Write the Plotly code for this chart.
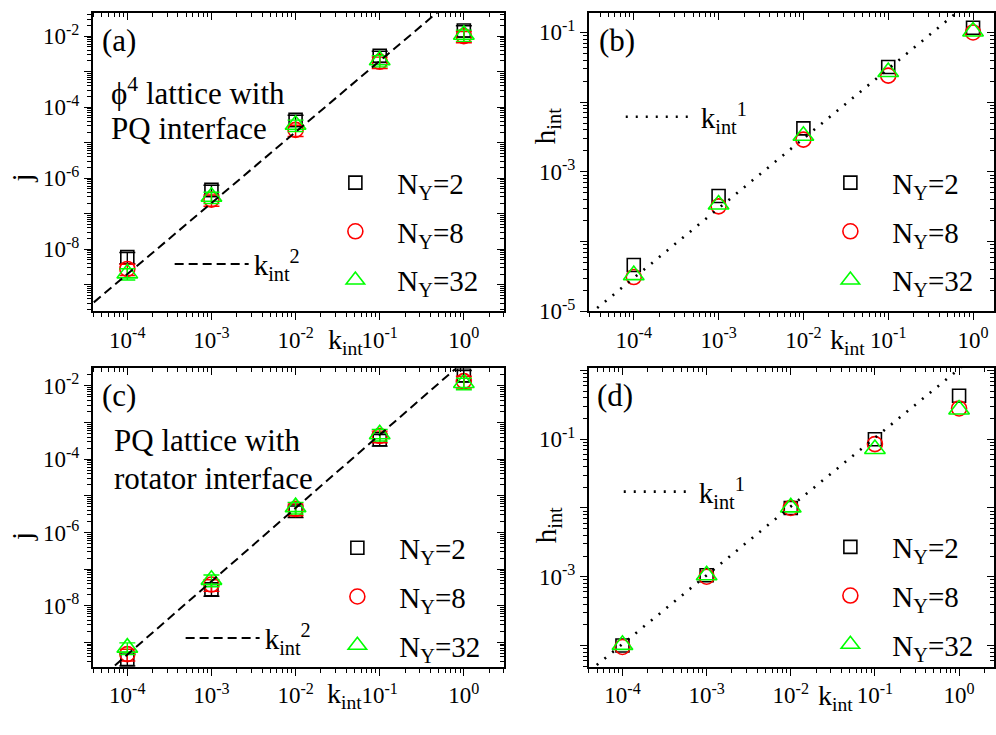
import plotly.graph_objects as go

FONT = "Liberation Serif"
W, H = 996, 735

# ---------------- data ----------------
k_int = [1e-4, 1e-3, 1e-2, 1e-1, 1.0]

# (a) phi^4 lattice with PQ interface : j
a_j_N2 = [6.0e-9, 4.7e-7, 4.4e-5, 2.8e-3, 1.45e-2]
a_j_N8 = [2.8e-9, 2.5e-7, 2.3e-5, 1.9e-3, 1.0e-2]
a_j_N32 = [2.1e-9, 3.0e-7, 3.2e-5, 2.1e-3, 1.1e-2]
# (b) phi^4 lattice with PQ interface : h_int
b_h_N2 = [4.6e-5, 4.5e-4, 4.2e-3, 3.2e-2, 0.117]
b_h_N8 = [3.1e-5, 3.2e-4, 2.9e-3, 2.4e-2, 0.100]
b_h_N32 = [3.3e-5, 3.4e-4, 3.3e-3, 2.7e-2, 0.103]
# (c) PQ lattice with rotator interface : j
c_j_N2 = [3.5e-10, 2.8e-8, 3.9e-6, 3.5e-4, 1.95e-2]
c_j_N8 = [4.8e-10, 3.8e-8, 4.4e-6, 4.3e-4, 1.35e-2]
c_j_N32 = [7.2e-10, 5.1e-8, 4.9e-6, 4.8e-4, 1.2e-2]
# (d) PQ lattice with rotator interface : h_int
d_h_N2 = [1.0e-4, 1.05e-3, 1.0e-2, 0.100, 0.43]
d_h_N8 = [0.95e-4, 1.0e-3, 1.0e-2, 0.085, 0.28]
d_h_N32 = [1.02e-4, 1.05e-3, 1.02e-2, 0.072, 0.27]

# guide lines (end points)
fit_a_k = [4e-5, 3.0]
fit_a_j = [3.2e-10, 1.8]
fit_b_k = [3e-5, 3.0]
fit_b_h = [9e-6, 0.9]
fit_c_k = [4e-5, 3.0]
fit_c_j = [7.4e-11, 0.417]
fit_d_k = [4e-5, 3.0]
fit_d_h = [4.2e-5, 3.15]

series_names = ["N<sub>Y</sub>=2", "N<sub>Y</sub>=8", "N<sub>Y</sub>=32"]
x_tick_vals = [1e-4, 1e-3, 1e-2, 1e-1, 1e0]
x_tick_text = ["10<sup>-4</sup>", "10<sup>-3</sup>", "10<sup>-2</sup>", "10<sup>-1</sup>", "10<sup>0</sup>"]

# ---------------- styles ----------------
colors = ["black", "red", "#00ff00"]
symbols = ["square-open", "circle-open", "triangle-up-open"]
sizes = [13, 15, 18]


def px(x):
    return x / W


def py(y):
    return 1 - y / H


panels = [
    dict(ys=[a_j_N2, a_j_N8, a_j_N32], fx=fit_a_k, fy=fit_a_j, dash="9px,5px",
         flabel="k<sub>int</sub><sup>2</sup>", err=True,
         xd=(93, 505), yd=(3, 311), xr=[-4.41, 0.477], yr=[-9.745, -1.345],
         ydec=list(range(-10, 0)), ylab=[-2, -4, -6, -8],
         tag="(a)", tagpos=(100, 31),
         texts=[("ϕ<sup>4</sup> lattice with", 109, 84), ("PQ interface", 109, 122)],
         ytitle="j", ytpos=(22, 173), xtpos=(327, 342),
         leg=(314, 152), fleg=(170, 236), fiw=74),
    dict(ys=[b_h_N2, b_h_N8, b_h_N32], fx=fit_b_k, fy=fit_b_h, dash="2px,8px",
         flabel="k<sub>int</sub><sup>1</sup>", err=False,
         xd=(590, 996), yd=(3, 311), xr=[-4.53, 0.247], yr=[-5.0, -0.72],
         ydec=list(range(-6, 1)), ylab=[-1, -3, -5],
         tag="(b)", tagpos=(598, 31),
         texts=[],
         ytitle="h<sub>int</sub>", ytpos=(548, 120), xtpos=(830, 342),
         leg=(810, 152), fleg=(622, 84), fiw=70),
    dict(ys=[c_j_N2, c_j_N8, c_j_N32], fx=fit_c_k, fy=fit_c_j, dash="9px,5px",
         flabel="k<sub>int</sub><sup>2</sup>", err=True,
         xd=(93, 505), yd=(370, 678), xr=[-4.41, 0.477], yr=[-9.665, -1.524],
         ydec=list(range(-10, 0)), ylab=[-2, -4, -6, -8],
         tag="(c)", tagpos=(100, 398),
         texts=[("PQ lattice with", 112, 444), ("rotator interface", 112, 484)],
         ytitle="j", ytpos=(22, 543), xtpos=(326, 708),
         leg=(316, 529), fleg=(181, 622), fiw=74),
    dict(ys=[d_h_N2, d_h_N8, d_h_N32], fx=fit_d_k, fy=fit_d_h, dash="2px,8px",
         flabel="k<sub>int</sub><sup>1</sup>", err=False,
         xd=(590, 996), yd=(370, 678), xr=[-4.40, 0.415], yr=[-4.31, 0.03],
         ydec=list(range(-5, 1)), ylab=[-1, -3],
         tag="(d)", tagpos=(596, 398),
         texts=[],
         ytitle="h<sub>int</sub>", ytpos=(549, 532), xtpos=(818, 710),
         leg=(810, 528), fleg=(620, 471), fiw=70),
]

fig = go.Figure()
layout = dict(
    width=W, height=H, autosize=False,
    margin=dict(l=0, r=0, t=0, b=0),
    paper_bgcolor="white", plot_bgcolor="white",
    font=dict(family=FONT, color="black", size=22),
    showlegend=True,
)
annotations = []

for i, p in enumerate(panels):
    n = i + 1
    no = i + 5
    xa, ya = ("x" if n == 1 else f"x{n}"), ("y" if n == 1 else f"y{n}")
    xo, yo = f"x{no}", f"y{no}"
    xkey = "xaxis" if n == 1 else f"xaxis{n}"
    ykey = "yaxis" if n == 1 else f"yaxis{n}"
    legm = "legend" if n == 1 else f"legend{n}"
    legf = f"legend{n + 4}"

    # data series
    for s in range(3):
        tr = go.Scatter(
            x=k_int, y=p["ys"][s], mode="markers", name=series_names[s],
            marker=dict(symbol=symbols[s], size=sizes[s], color=colors[s],
                        line=dict(width=1.6, color=colors[s])),
            xaxis=xa, yaxis=ya, legend=legm, legendgroup=f"{n}-{s}",
        )
        if p["err"]:
            tr.error_y = dict(type="percent", value=35, color=colors[s], thickness=1.4, width=8)
        fig.add_trace(tr)
    # guide line
    fig.add_trace(go.Scatter(
        x=p["fx"], y=p["fy"], mode="lines", name=p["flabel"],
        line=dict(color="black", width=2 if p["dash"].startswith("9") else 2.6, dash=p["dash"]),
        xaxis=xa, yaxis=ya, legend=legf,
    ))
    # empty trace for the mirrored (top/right) tick axes
    fig.add_trace(go.Scatter(x=[], y=[], xaxis=xo, yaxis=yo, showlegend=False, hoverinfo="skip"))

    xdom = [px(p["xd"][0]), min(1.0, px(p["xd"][1]))]
    ydom = [py(p["yd"][1]), py(p["yd"][0])]
    ytv = [10.0 ** e for e in p["ydec"]]
    ytt = [f"10<sup>{e}</sup>" if e in p["ylab"] else " " for e in p["ydec"]]

    common = dict(type="log", showgrid=False, zeroline=False, ticklen=7, tickwidth=1.4,
                  tickcolor="black", tickfont=dict(family=FONT, size=23, color="black"))
    layout[xkey] = dict(common, domain=xdom, range=p["xr"], anchor=ya, side="bottom",
                        ticks="outside", tickmode="array", tickvals=x_tick_vals, ticktext=x_tick_text,
                        showline=True, linewidth=1.6, linecolor="black", mirror=True,
                        minor=dict(ticks="outside", ticklen=4, tickwidth=1.1, tickcolor="black",
                                   dtick="D1", showgrid=False))
    layout[ykey] = dict(common, domain=ydom, range=p["yr"], anchor=xa, side="left",
                        ticks="outside", tickmode="array", tickvals=ytv, ticktext=ytt,
                        showline=True, linewidth=1.6, linecolor="black", mirror=True,
                        minor=dict(ticks="outside", ticklen=4, tickwidth=1.1, tickcolor="black",
                                   dtick="D1", showgrid=False))
    layout[f"xaxis{no}"] = dict(common, range=p["xr"], overlaying=xa, anchor=yo, side="top",
                                ticks="inside", tickmode="array", tickvals=x_tick_vals,
                                showticklabels=False, showline=False,
                                minor=dict(ticks="inside", ticklen=4, tickwidth=1.1, tickcolor="black",
                                           dtick="D1", showgrid=False))
    layout[f"yaxis{no}"] = dict(common, range=p["yr"], overlaying=ya, anchor=xo, side="right",
                                ticks="inside", tickmode="array", tickvals=ytv,
                                showticklabels=False, showline=False,
                                minor=dict(ticks="inside", ticklen=4, tickwidth=1.1, tickcolor="black",
                                           dtick="D1", showgrid=False))

    layout[legm] = dict(x=px(p["leg"][0]), y=py(p["leg"][1]), xanchor="left", yanchor="top",
                        bgcolor="rgba(0,0,0,0)", borderwidth=0, itemwidth=74,
                        tracegroupgap=8, font=dict(family=FONT, size=29, color="black"))
    layout[legf] = dict(x=px(p["fleg"][0]), y=py(p["fleg"][1]), xanchor="left", yanchor="top",
                        bgcolor="rgba(0,0,0,0)", borderwidth=0, itemwidth=p["fiw"],
                        font=dict(family=FONT, size=29, color="black"))

    annotations.append(dict(text=p["tag"], x=px(p["tagpos"][0]), y=py(p["tagpos"][1]),
                            xref="paper", yref="paper", xanchor="left", yanchor="middle",
                            showarrow=False, font=dict(family=FONT, size=31, color="black")))
    for t, tx, ty in p["texts"]:
        annotations.append(dict(text=t, x=px(tx), y=py(ty), xref="paper", yref="paper",
                                xanchor="left", yanchor="middle", showarrow=False,
                                font=dict(family=FONT, size=31, color="black")))
    annotations.append(dict(text=p["ytitle"], x=px(p["ytpos"][0]), y=py(p["ytpos"][1]),
                            xref="paper", yref="paper", xanchor="center", yanchor="middle",
                            textangle=-90, showarrow=False,
                            font=dict(family=FONT, size=29, color="black")))
    annotations.append(dict(text="k<sub>int</sub>", x=px(p["xtpos"][0]), y=py(p["xtpos"][1]),
                            xref="paper", yref="paper", xanchor="left", yanchor="middle",
                            showarrow=False, font=dict(family=FONT, size=28, color="black")))

layout["annotations"] = annotations
fig.update_layout(**layout)
fig.write_html("out.html", config={"displayModeBar": False},
               post_script="document.body.style.margin='0px';")
